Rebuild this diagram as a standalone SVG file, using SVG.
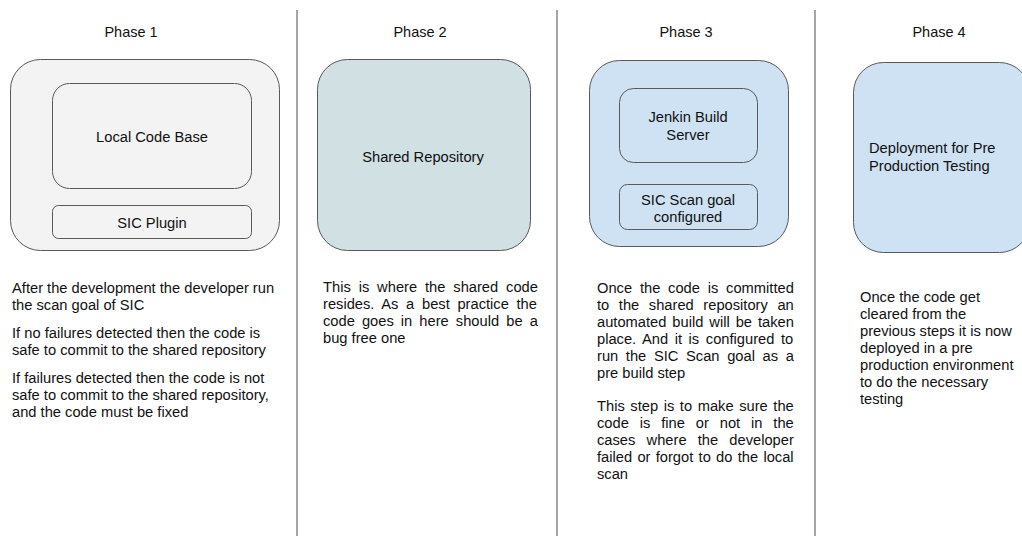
<svg xmlns="http://www.w3.org/2000/svg" width="1022" height="536" viewBox="0 0 1022 536">
<style>
text{font-family:"Liberation Sans",Arial,sans-serif;font-size:14.7px;fill:#111}
.t{font-size:14.5px}
.c{text-anchor:middle}
.box{stroke:#595959;stroke-width:1}
.sep{stroke:#6b6b6b;stroke-width:1.2}
</style>
<rect width="1022" height="536" fill="#fff"/>
<g id="connectors">
<line class="sep" x1="297" y1="10" x2="297" y2="536"/>
<line class="sep" x1="557" y1="10" x2="557" y2="536"/>
<line class="sep" x1="815" y1="10" x2="815" y2="536"/>
</g>
<g id="phase1">
<text class="c t" x="131" y="37">Phase 1</text>
<rect class="box" x="10.5" y="59.5" width="269" height="191" rx="30" fill="#f3f3f3"/>
<g id="local-code-base">
<rect class="box" x="52.5" y="83.5" width="199" height="105" rx="17" fill="#f3f3f3"/>
<text class="c" x="152" y="142">Local Code Base</text>
</g>
<g id="sic-plugin">
<rect class="box" x="52.5" y="205.5" width="199" height="33" rx="6" fill="#f3f3f3"/>
<text class="c" x="152" y="228">SIC Plugin</text>
</g>
<text x="12" y="293">After the development the developer run</text>
<text x="12" y="310">the scan goal of SIC</text>
<text x="12" y="338">If no failures detected then the code is</text>
<text x="12" y="355">safe to commit to the shared repository</text>
<text x="12" y="383">If failures detected then the code is not</text>
<text x="12" y="400">safe to commit to the shared repository,</text>
<text x="12" y="417">and the code must be fixed</text>
</g>
<g id="phase2">
<text class="c t" x="420" y="37">Phase 2</text>
<rect class="box" x="317.5" y="59.5" width="213" height="191" rx="30" fill="#d0e0e3"/>
<text class="c" x="423" y="162">Shared Repository</text>
<text x="323" y="292" word-spacing="3.8">This is where the shared code</text>
<text x="323" y="309" word-spacing="3.6">resides. As a best practice the</text>
<text x="323" y="326" word-spacing="3.0">code goes in here should be a</text>
<text x="323" y="343">bug free one</text>
</g>
<g id="phase3">
<text class="c t" x="686" y="37">Phase 3</text>
<rect class="box" x="589.5" y="60.5" width="199" height="186" rx="30" fill="#cfe2f3"/>
<g id="jenkin">
<rect class="box" x="619.5" y="88.5" width="138" height="74" rx="14" fill="#cfe2f3"/>
<text class="c" x="688" y="122">Jenkin Build</text>
<text class="c" x="688" y="140">Server</text>
</g>
<g id="sic-scan">
<rect class="box" x="619.5" y="184.5" width="138" height="45" rx="8" fill="#cfe2f3"/>
<text class="c" x="688" y="205">SIC Scan goal</text>
<text class="c" x="688" y="222">configured</text>
</g>
<text x="597" y="293" word-spacing="3.7">Once the code is committed</text>
<text x="597" y="310" word-spacing="5.5">to the shared repository an</text>
<text x="597" y="327" word-spacing="1.85">automated build will be taken</text>
<text x="597" y="344" word-spacing="2.5">place. And it is configured to</text>
<text x="597" y="361" word-spacing="3.55">run the SIC Scan goal as a</text>
<text x="597" y="378">pre build step</text>
<text x="597" y="411" word-spacing="1.5">This step is to make sure the</text>
<text x="597" y="428" word-spacing="6.8">code is fine or not in the</text>
<text x="597" y="445" word-spacing="7.1">cases where the developer</text>
<text x="597" y="462" word-spacing="1.2">failed or forgot to do the local</text>
<text x="597" y="479">scan</text>
</g>
<g id="phase4">
<text class="c t" x="939" y="37">Phase 4</text>
<rect class="box" x="853.5" y="62.5" width="176" height="190" rx="30" fill="#cfe2f3"/>
<text x="869" y="153">Deployment for Pre</text>
<text x="869" y="171">Production Testing</text>
<text x="860" y="302">Once the code get</text>
<text x="860" y="319">cleared from the</text>
<text x="860" y="336">previous steps it is now</text>
<text x="860" y="353">deployed in a pre</text>
<text x="860" y="370">production environment</text>
<text x="860" y="387">to do the necessary</text>
<text x="860" y="404">testing</text>
</g>
</svg>
